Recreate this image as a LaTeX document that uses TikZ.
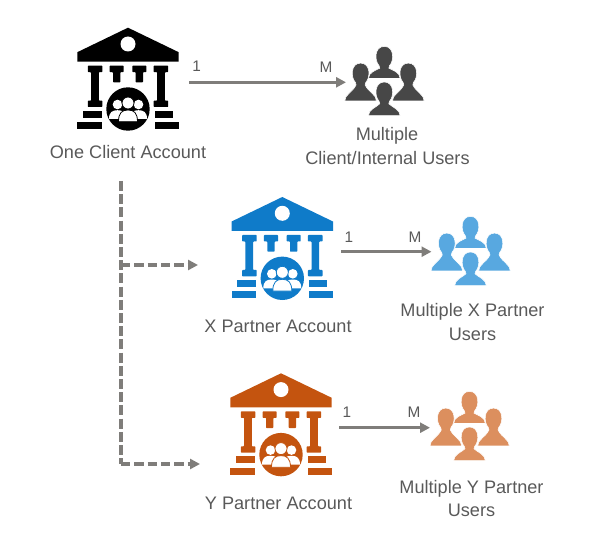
\documentclass[tikz,border=0pt]{standalone}
\usepackage{fontspec}
\setmainfont{Liberation Sans}
\usetikzlibrary{arrows.meta}
\definecolor{txtgray}{HTML}{595959}
\definecolor{linegray}{HTML}{7F7D7A}
\definecolor{usergray}{HTML}{474747}
\definecolor{bankblue}{HTML}{0F7BC9}
\definecolor{userblue}{HTML}{58A8E0}
\definecolor{bankorange}{HTML}{C4540F}
\definecolor{userorange}{HTML}{DC8F5E}
\tikzset{
  x=0.75pt,y=-0.75pt,
  lbl/.style={text=txtgray,font=\fontsize{13.6}{16}\selectfont,inner sep=0pt,align=center,anchor=base},
  card/.style={text=txtgray,font=\fontsize{11.5}{13}\selectfont,inner sep=0pt},
  solidarrow/.style={draw=linegray,line width=2.2pt,-{Triangle[length=7.5pt,width=7.5pt]}},
  dasharrow/.style={draw=linegray,line width=2.3pt,dash pattern=on 7pt off 3pt,-{Triangle[length=7.5pt,width=7.5pt]}},
  dashline/.style={draw=linegray,line width=2.3pt,dash pattern=on 7.5pt off 2.4pt},
  pics/person/.style 2 args={code={
    \fill[#1,draw=white,line width=0.4pt]
      (-15.8,#2) .. controls (-16,#2-6) and (-8,#2-8.5) .. (-4.5,11.5)
      .. controls (-4.5,11) and (-4.8,10) .. (-5.2,9)
      .. controls (-10,4) and (-10,-10.3) .. (0,-10.3)
      .. controls (10,-10.3) and (10,4) .. (5.2,9)
      .. controls (4.8,10) and (4.5,11) .. (4.5,11.5)
      .. controls (8,#2-8.5) and (16,#2-6) .. (15.8,#2) -- cycle;
  }},
  pics/users/.style={code={
    \pic at (0,0) {person={#1}{21.8}};
    \pic at (-23.7,16.7) {person={#1}{27.4}};
    \pic at (24,16.7) {person={#1}{27.4}};
    \pic at (0,35.6) {person={#1}{23.4}};
  }},
  pics/bank/.style={code={
    \fill[#1] (0,0) -- (50.7,24.5) -- (50.7,34) -- (-50.7,34) -- (-50.7,24.5) -- cycle;
    \fill[white] (0,16.3) circle (7.5);
    \foreach \s in {-1,1}{
      \fill[#1,rounded corners=0.5pt] (\s*25.6,38) -- (\s*40.2,38) -- (\s*40.2,44.5) -- (\s*36.9,44.5) -- (\s*36.9,73)
        -- (\s*40.2,73) -- (\s*40.2,79.3) -- (\s*25.6,79.3) -- (\s*25.6,73) -- (\s*29.2,73)
        -- (\s*29.2,44.5) -- (\s*25.6,44.5) -- cycle;
      \fill[#1,rounded corners=0.5pt] (\s*4.3,38) -- (\s*18.4,38) -- (\s*18.4,44.5) -- (\s*15,44.5) -- (\s*15,54.7)
        -- (\s*7.7,54.7) -- (\s*7.7,44.5) -- (\s*4.3,44.5) -- cycle;
      \fill[#1] (\s*26.5,83) rectangle (\s*45,90);
      \fill[#1] (\s*26.5,94.3) rectangle (\s*50.7,101.3);
    }
    \fill[white] (0,81.3) circle (24);
    \fill[#1] (0,81.3) circle (21.7);
    \begin{scope}[shift={(0,81.3)}]
      \foreach \a in {-10.5,10.5}{
        \fill[white] (\a,-4.5) circle (4.8);
        \fill[white] (\a-8.5,10) .. controls (\a-8.5,3) and (\a-5,1.2) .. (\a,1.2)
          .. controls (\a+5,1.2) and (\a+8.5,3) .. (\a+8.5,10) -- cycle;
      }
      \fill[white,draw=#1,line width=0.6pt] (0,-6) circle (6);
      \fill[white,draw=#1,line width=0.6pt] (-9.5,12.7) .. controls (-9.5,4) and (-6,1) .. (0,1)
          .. controls (6,1) and (9.5,4) .. (9.5,12.7) -- cycle;
    \end{scope}
  }},
}
\begin{document}
\begin{tikzpicture}
\useasboundingbox (0,0) rectangle (608,560);
% icons
\pic at (128,27.7) {bank={black}};
\pic at (282.3,197) {bank={bankblue}};
\pic at (281,373.3) {bank={bankorange}};
\pic at (384.3,56.7) {users={usergray}};
\pic at (470.5,226.7) {users={userblue}};
\pic at (469.5,401.7) {users={userorange}};
% anchors
\coordinate (aStart) at (189.3,82.3);
\coordinate (aEnd) at (346,82.3);
\coordinate (xStart) at (341,251.7);
\coordinate (xEnd) at (431.5,251.7);
\coordinate (yStart) at (339,427.7);
\coordinate (yEnd) at (430,427.7);
\coordinate (trunkTop) at (121,181);
\coordinate (trunkMid) at (121,265);
\coordinate (trunkBot) at (121,464);
\coordinate (xIn) at (198,265);
\coordinate (yIn) at (200,464);
% connectors
\draw[solidarrow] (aStart) -- (aEnd);
\draw[solidarrow] (xStart) -- (xEnd);
\draw[solidarrow] (yStart) -- (yEnd);
\draw[dashline] (trunkTop) -- (trunkBot);
\draw[dasharrow] (trunkMid) -- (xIn);
\draw[dasharrow] (trunkBot) -- (yIn);
% labels
\node[lbl] (tA) at (128,158.3) {One Client Account};
\node[lbl] (tX) at (278,332.7) {X Partner Account};
\node[lbl] (tY) at (278.5,509) {Y Partner Account};
\node[lbl] (uA1) at (387,141) {Multiple};
\node[lbl] (uA2) at (387.5,165) {Client/Internal Users};
\node[lbl] (uX1) at (472.5,316.7) {Multiple X Partner};
\node[lbl] (uX2) at (472.5,340.7) {Users};
\node[lbl] (uY1) at (471.5,493) {Multiple Y Partner};
\node[lbl] (uY2) at (471.5,516.7) {Users};
\node[card] (c1) at (196.7,66.5) {1};
\node[card] (c2) at (326,67) {M};
\node[card] (c3) at (349,237) {1};
\node[card] (c4) at (415,237) {M};
\node[card] (c5) at (347,412) {1};
\node[card] (c6) at (414,412) {M};
\end{tikzpicture}
\end{document}
